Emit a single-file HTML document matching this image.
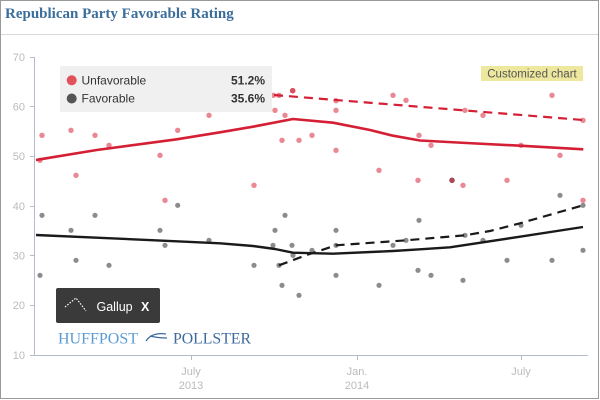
<!DOCTYPE html>
<html><head><meta charset="utf-8">
<style>
html,body{margin:0;padding:0;background:#fff;}
body{width:600px;height:400px;overflow:hidden;position:relative;font-family:"Liberation Sans",sans-serif;}
.frame{position:absolute;left:0;top:0;width:597px;height:397px;border:1px solid #999;}
.title{position:absolute;left:5px;top:6px;font-family:"Liberation Serif",serif;font-weight:bold;font-size:15px;color:#3c6e9c;letter-spacing:0px;}
.sep{position:absolute;left:1px;top:34px;width:597px;height:1px;background:#d8d8d8;}
</style></head>
<body>
<div class="frame"></div>
<div class="title">Republican Party Favorable Rating</div>
<div class="sep"></div>
<svg width="600" height="400" style="position:absolute;left:0;top:0" xmlns="http://www.w3.org/2000/svg">
  <g stroke="#b4bcc8" stroke-width="1" fill="none">
    <line x1="34.5" y1="57" x2="34.5" y2="355.5"/>
    <line x1="34" y1="355.5" x2="588" y2="355.5"/>
    <line x1="30" y1="57.5" x2="34" y2="57.5"/>
    <line x1="30" y1="106.5" x2="34" y2="106.5"/>
    <line x1="30" y1="156.5" x2="34" y2="156.5"/>
    <line x1="30" y1="206.5" x2="34" y2="206.5"/>
    <line x1="30" y1="255.5" x2="34" y2="255.5"/>
    <line x1="30" y1="305.5" x2="34" y2="305.5"/>
    <line x1="30" y1="355.5" x2="34" y2="355.5"/>
    <line x1="191.5" y1="355" x2="191.5" y2="360"/>
    <line x1="357.5" y1="355" x2="357.5" y2="360"/>
    <line x1="521.5" y1="355" x2="521.5" y2="360"/>
  </g>
  <g font-family="Liberation Sans, sans-serif" font-size="11" fill="#bbbbbb" text-anchor="end">
    <text x="25" y="61">70</text>
    <text x="25" y="110.5">60</text>
    <text x="25" y="160">50</text>
    <text x="25" y="210">40</text>
    <text x="25" y="259.5">30</text>
    <text x="25" y="309">20</text>
    <text x="25" y="359">10</text>
  </g>
  <g font-family="Liberation Sans, sans-serif" font-size="11" fill="#bbbbbb" text-anchor="middle">
    <text x="191" y="375">July</text>
    <text x="191" y="389">2013</text>
    <text x="357" y="375">Jan.</text>
    <text x="357" y="389">2014</text>
    <text x="521" y="375">July</text>
  </g>

  <g fill="#8c8c8c">
    <circle cx="42" cy="215.3" r="2.6"/><circle cx="95" cy="215.3" r="2.6"/>
    <circle cx="71" cy="230.3" r="2.6"/><circle cx="160" cy="230.3" r="2.6"/>
    <circle cx="165" cy="245.3" r="2.6"/><circle cx="209" cy="240.3" r="2.6"/>
    <circle cx="76" cy="260.3" r="2.6"/><circle cx="109" cy="265.3" r="2.6"/>
    <circle cx="40" cy="275.3" r="2.6"/><circle cx="177.7" cy="205.3" r="2.6"/>
    <circle cx="285" cy="215.3" r="2.6"/><circle cx="275" cy="230.3" r="2.6"/>
    <circle cx="336" cy="230.3" r="2.6"/><circle cx="273" cy="245.3" r="2.6"/>
    <circle cx="292" cy="245.3" r="2.6"/><circle cx="293" cy="255.3" r="2.6"/>
    <circle cx="312" cy="250.3" r="2.6"/><circle cx="254" cy="265.3" r="2.6"/>
    <circle cx="279" cy="265.3" r="2.6"/><circle cx="282" cy="285.3" r="2.6"/>
    <circle cx="299" cy="295.3" r="2.6"/><circle cx="336" cy="275.3" r="2.6"/>
    <circle cx="379" cy="285.3" r="2.6"/><circle cx="393" cy="245.3" r="2.6"/>
    <circle cx="406" cy="240.3" r="2.6"/><circle cx="419" cy="220.3" r="2.6"/>
    <circle cx="418" cy="270.3" r="2.6"/><circle cx="336" cy="245.3" r="2.6"/>
    <circle cx="465" cy="235.3" r="2.6"/><circle cx="483" cy="240.3" r="2.6"/>
    <circle cx="521" cy="225.3" r="2.6"/><circle cx="560" cy="195.3" r="2.6"/>
    <circle cx="583" cy="205.3" r="2.6"/><circle cx="583" cy="250.3" r="2.6"/>
    <circle cx="431" cy="275.3" r="2.6"/><circle cx="463" cy="280.3" r="2.6"/>
    <circle cx="507" cy="260.3" r="2.6"/><circle cx="552" cy="260.3" r="2.6"/>
  </g>
  <g fill="#ea8893">
    <circle cx="42" cy="135.3" r="2.7"/><circle cx="71" cy="130.3" r="2.7"/>
    <circle cx="95" cy="135.3" r="2.7"/><circle cx="109" cy="145.3" r="2.7"/>
    <circle cx="76" cy="175.3" r="2.7"/><circle cx="40" cy="160.3" r="2.7"/>
    <circle cx="160" cy="155.3" r="2.7"/><circle cx="177.7" cy="130.3" r="2.7"/>
    <circle cx="209" cy="115.3" r="2.7"/><circle cx="165" cy="200.3" r="2.7"/>
    <circle cx="273.3" cy="95.3" r="2.7"/><circle cx="279" cy="95.3" r="2.7"/>
    <circle cx="275" cy="110.3" r="2.7"/><circle cx="285" cy="115.3" r="2.7"/>
    <circle cx="282" cy="140.3" r="2.7"/><circle cx="299" cy="140.3" r="2.7"/>
    <circle cx="312" cy="135.3" r="2.7"/><circle cx="336" cy="110.3" r="2.7"/>
    <circle cx="336" cy="100.7" r="2.7"/>
    <circle cx="336" cy="150.3" r="2.7"/><circle cx="254" cy="185.3" r="2.7"/>
    <circle cx="379" cy="170.3" r="2.7"/><circle cx="393" cy="95.3" r="2.7"/>
    <circle cx="406" cy="100.3" r="2.7"/><circle cx="419" cy="135.3" r="2.7"/>
    <circle cx="431" cy="145.3" r="2.7"/><circle cx="418" cy="180.3" r="2.7"/>
    <circle cx="463" cy="185.3" r="2.7"/><circle cx="465" cy="110.3" r="2.7"/>
    <circle cx="483" cy="115.3" r="2.7"/><circle cx="507" cy="180.3" r="2.7"/>
    <circle cx="521" cy="145.3" r="2.7"/><circle cx="552" cy="95.3" r="2.7"/>
    <circle cx="560" cy="155.3" r="2.7"/><circle cx="583" cy="120.3" r="2.7"/>
    <circle cx="583" cy="200.3" r="2.7"/>
  </g>
  <circle cx="292.7" cy="90.7" r="2.8" fill="#d9505e"/>
  <circle cx="452" cy="180.3" r="2.8" fill="#a84a58"/>

  <polyline fill="none" stroke="#d41f35" stroke-width="2.6" stroke-linejoin="round"
    points="36,160 40,159.3 96.7,150 176.7,139.3 220,132.3 253,126.7 293,119 333,122.7 370,130 393,135.7 420,140.5 466.7,143 520,145.7 583.3,149.3"/>
  <line x1="274" y1="95" x2="583" y2="120" stroke="#d41f35" stroke-width="2.2" stroke-dasharray="9,6"/>
  <polyline fill="none" stroke="#1a1a1a" stroke-width="2.4" stroke-linejoin="round"
    points="36,235 96.7,237.7 176.7,241.3 220,243.3 253,246 275,249 293,252.7 333,253.7 393,251 420,249.3 450,247.3 520,236.7 583,227"/>
  <polyline fill="none" stroke="#1a1a1a" stroke-width="2.2" stroke-dasharray="9,6" stroke-linejoin="round"
    points="279,265.3 306.7,255 336,245.3 406,240.3 465,235.3 490,231 520,223.3 583,205.3"/>

  <rect x="60" y="66" width="212" height="46" fill="#f0f0f0"/>
  <circle cx="71.7" cy="80.3" r="5" fill="#e0525c"/>
  <circle cx="71.7" cy="98.5" r="5" fill="#555555"/>
  <g font-family="Liberation Sans, sans-serif" font-size="12" fill="#333">
    <text x="81.5" y="84.5">Unfavorable</text>
    <text x="81.5" y="102.7">Favorable</text>
    <text x="265" y="84.5" text-anchor="end" font-weight="bold">51.2%</text>
    <text x="265" y="102.7" text-anchor="end" font-weight="bold">35.6%</text>
  </g>

  <rect x="481" y="66" width="102" height="15" fill="#ede89e"/>
  <text x="532" y="77.5" font-family="Liberation Sans, sans-serif" font-size="11.5" fill="#555" text-anchor="middle">Customized chart</text>

  <rect x="56" y="288" width="104" height="35" rx="2" fill="#3a3a3a"/>
  <polyline points="65,307 76,298 86,311" fill="none" stroke="#fff" stroke-width="1.2" stroke-dasharray="1.5,1.5"/>
  <text x="96.5" y="311" font-family="Liberation Sans, sans-serif" font-size="12.5" fill="#fff">Gallup</text>
  <text x="141" y="311" font-family="Liberation Sans, sans-serif" font-size="12.5" font-weight="bold" fill="#fff">X</text>

  <text x="58" y="343.5" font-family="Liberation Serif, serif" font-size="15.5" fill="#5b9bd3" textLength="80" lengthAdjust="spacingAndGlyphs">HUFFPOST</text>
  <path d="M146,341 Q152,332 166,334 M150,336 Q158,338 167,338" fill="none" stroke="#3d6a9e" stroke-width="1.3"/>
  <text x="173" y="343.5" font-family="Liberation Serif, serif" font-size="15.5" fill="#3d6a9e" textLength="78" lengthAdjust="spacingAndGlyphs">POLLSTER</text>
</svg>
</body></html>
